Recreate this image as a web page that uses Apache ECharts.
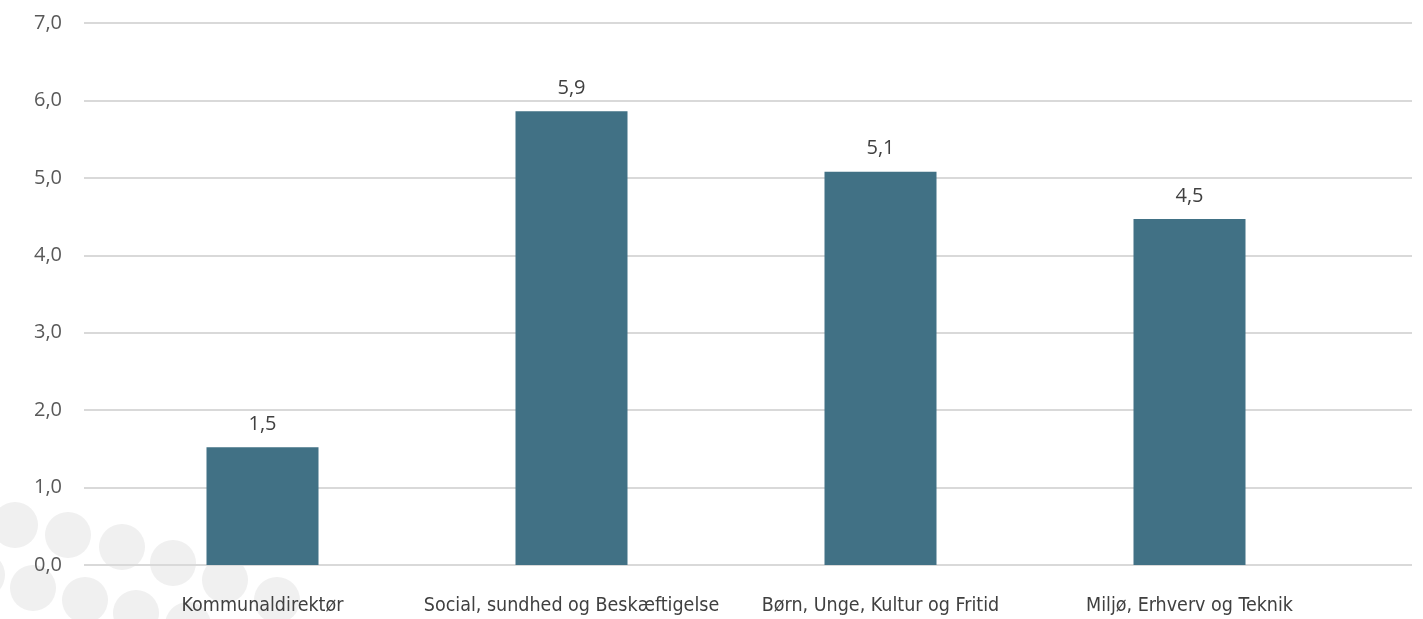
<!DOCTYPE html>
<html>
<head>
<meta charset="utf-8">
<script src="https://cdn.jsdelivr.net/npm/echarts@6/dist/echarts.min.js"></script>
<style>
  html, body { margin: 0; padding: 0; background: #ffffff; }
  #chart { width: 1423px; height: 619px; }
</style>
</head>
<body>
<div id="chart"></div>
<script>
// Afdelinger og deres værdier
const categories = [
  'Kommunaldirektør',
  'Social, sundhed og Beskæftigelse',
  'Børn, Unge, Kultur og Fritid',
  'Miljø, Erhverv og Teknik'
];
const values = [1.52, 5.86, 5.08, 4.47];

// Y-akse: 0,0 til 7,0 med trin på 1
const yMin = 0;
const yMax = 7;
const yStep = 1;

const fmt = v => v.toFixed(1).replace('.', ',');

// Dekorative lysegrå cirkler i nederste venstre hjørne
const dots = [
  [15, 525], [68, 535], [122, 547], [173, 563], [225, 580], [277, 600],
  [-18, 575], [33, 588], [85, 600], [136, 613], [188, 625]
];

const chart = echarts.init(document.getElementById('chart'), null, { renderer: 'canvas' });

chart.setOption({
  backgroundColor: '#ffffff',
  animation: false,
  graphic: dots.map(([cx, cy]) => ({
    type: 'circle',
    z: -10,
    silent: true,
    shape: { cx: cx, cy: cy, r: 23 },
    style: { fill: '#f0f0f0' }
  })),
  grid: [
    { left: 84, right: 11, top: 23, bottom: 54, containLabel: false },
    { left: 108, right: 79, top: 23, bottom: 54, containLabel: false }
  ],
  xAxis: [
    { type: 'value', gridIndex: 0, show: false, min: 0, max: 1 },
    {
      type: 'category',
      gridIndex: 1,
      data: categories,
      axisLine: { show: false },
      axisTick: { show: false },
      axisLabel: {
        color: '#404040',
        fontFamily: '"Liberation Sans Narrow", "DejaVu Sans Condensed", Roboto, sans-serif',
        fontSize: 19.5,
        margin: 31,
        interval: 0
      }
    }
  ],
  yAxis: [
    {
      type: 'value',
      gridIndex: 0,
      min: yMin,
      max: yMax,
      interval: yStep,
      axisLine: { show: false },
      axisTick: { show: false },
      axisLabel: {
        color: '#595959',
        fontFamily: '"Open Sans", sans-serif',
        fontSize: 20,
        margin: 22,
        formatter: v => fmt(v)
      },
      splitLine: { lineStyle: { color: '#d9d9d9', width: 2 } }
    },
    {
      type: 'value',
      gridIndex: 1,
      min: yMin,
      max: yMax,
      interval: yStep,
      show: false,
      splitLine: { show: false }
    }
  ],
  series: [
    {
      type: 'bar',
      xAxisIndex: 1,
      yAxisIndex: 1,
      data: values,
      barWidth: 112,
      itemStyle: { color: '#417185' },
      label: {
        show: true,
        position: 'top',
        distance: 13,
        color: '#404040',
        fontFamily: '"Open Sans", sans-serif',
        fontSize: 20,
        formatter: p => fmt(p.value)
      }
    }
  ]
});
</script>
</body>
</html>
